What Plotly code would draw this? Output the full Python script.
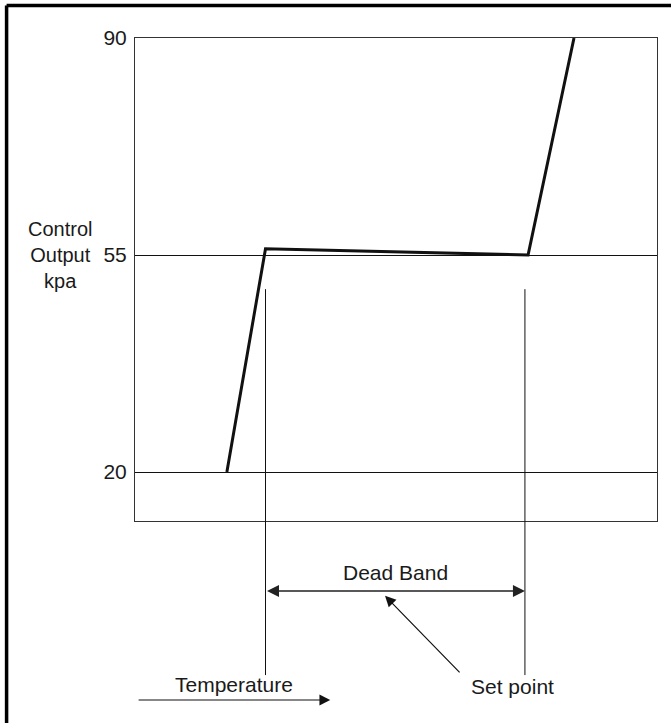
import plotly.graph_objects as go

# ---- data (schematic: temperature in arbitrary units 0-100, output in kpa) ----
temp = [17.6, 25.0, 75.3, 84.1]          # control curve, x
output_kpa = [20, 56, 55, 90]            # control curve, y
y_ticks = [20, 55, 90]
y_tick_labels = ["20", "55", "90"]
dead_band = [25.0, 74.7]                 # dead band limits (temperature)
set_point = 47.9                         # where the set-point arrow points
x_range = [0, 100]
y_range = [12.1, 90]

FONT = "Liberation Sans, Arial, Helvetica, sans-serif"
TXT = "#1a1a1a"
FS = 21

fig = go.Figure()
fig.add_trace(go.Scatter(
    x=temp, y=output_kpa, mode="lines",
    line=dict(color="#111111", width=3),
    hoverinfo="skip", showlegend=False,
))

fig.update_xaxes(
    range=x_range, showticklabels=False, showgrid=False, zeroline=False,
    showline=True, mirror=True, linecolor="#333333", linewidth=1, ticks="",
)
fig.update_yaxes(
    range=y_range, tickvals=y_ticks, ticktext=y_tick_labels,
    showgrid=True, gridcolor="#111111", gridwidth=1, zeroline=False,
    showline=True, mirror=True, linecolor="#333333", linewidth=1, ticks="",
    tickfont=dict(family=FONT, size=FS, color=TXT), ticklabelstandoff=3,
)

shapes = []
# vertical dead-band markers extending below the plot
for xv in dead_band:
    shapes.append(dict(type="line", xref="x", yref="paper",
                       x0=xv, x1=xv, y0=0.48, y1=-0.319,
                       line=dict(color="#111111", width=1)))
# outer frame (top and left edges)
shapes.append(dict(type="line", xref="paper", yref="paper",
                   x0=-0.246, x1=1.03, y0=1.0673, y1=1.0673,
                   line=dict(color="black", width=3.5)))
shapes.append(dict(type="line", xref="paper", yref="paper",
                   x0=-0.246, x1=-0.246, y0=1.0673, y1=-0.45,
                   line=dict(color="black", width=3.5)))

annotations = [
    dict(text="Control<br>Output<br>kpa", xref="paper", yref="y",
         x=-0.1437, y=55, showarrow=False, align="center",
         xanchor="center", yanchor="middle",
         font=dict(family=FONT, size=FS - 1, color=TXT)),
    dict(text="Dead Band", xref="x", yref="paper",
         x=(dead_band[0] + dead_band[1]) / 2, y=-0.1066, showarrow=False,
         xanchor="center", yanchor="middle",
         font=dict(family=FONT, size=FS, color=TXT)),
    # double arrow across dead band
    dict(text="", xref="x", yref="paper", x=dead_band[1], y=-0.145,
         axref="x", ax=dead_band[0], ayref="pixel", ay=0,
         showarrow=True, arrowside="end+start", arrowhead=2,
         arrowwidth=1.5, arrowsize=1.6, arrowcolor="#222222",
         standoff=0, startstandoff=0),
    # set point arrow
    dict(text="", xref="x", yref="paper", x=set_point, y=-0.155,
         ax=76, ay=78, showarrow=True, arrowhead=2,
         arrowwidth=1.2, arrowsize=1.8, arrowcolor="#111111", standoff=0),
    dict(text="Set point", xref="x", yref="paper", x=72.3, y=-0.342,
         showarrow=False, xanchor="center", yanchor="middle",
         font=dict(family=FONT, size=FS, color=TXT)),
    dict(text="Temperature", xref="x", yref="paper", x=18.9, y=-0.3395,
         showarrow=False, xanchor="center", yanchor="middle",
         font=dict(family=FONT, size=FS, color=TXT)),
    # temperature arrow
    dict(text="", xref="x", yref="paper", x=37.4, y=-0.3706,
         axref="x", ax=0.4, ayref="pixel", ay=0, showarrow=True,
         arrowhead=2, arrowwidth=1.2, arrowsize=1.8, arrowcolor="#111111",
         standoff=0),
]

fig.update_layout(
    width=671, height=723,
    margin=dict(l=135, r=14, t=38, b=202),
    paper_bgcolor="white", plot_bgcolor="white",
    shapes=shapes, annotations=annotations,
    showlegend=False,
)

fig.write_html(
    "out.html",
    config={"displayModeBar": False, "staticPlot": True},
    post_script="document.body.style.margin='0';document.body.style.padding='0';",
)
